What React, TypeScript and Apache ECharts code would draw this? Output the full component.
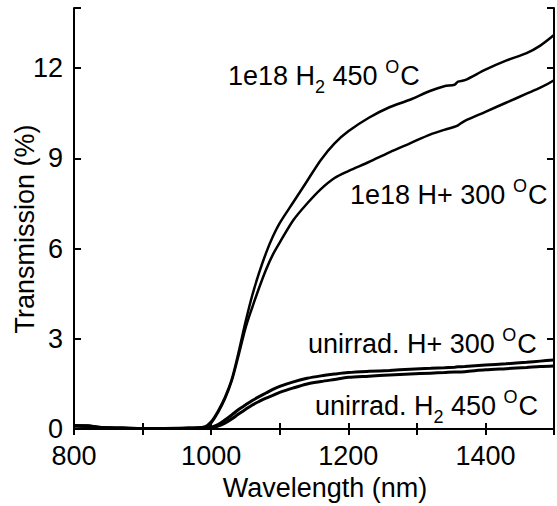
import React, { useEffect, useRef } from "react";
import * as echarts from "echarts";

// Wavelength samples (nm)
const wavelengths = [
  800, 820, 840, 880, 920, 960, 990, 1000, 1010, 1020, 1030, 1040, 1050, 1060,
  1070, 1080, 1090, 1100, 1120, 1140, 1160, 1180, 1200, 1230, 1260, 1290, 1320,
  1340, 1355, 1360, 1370, 1400, 1430, 1460, 1480, 1500,
];

// Transmission (%)
const irrH2_450 = [
  0.12, 0.12, 0.06, 0.04, 0.03, 0.04, 0.08, 0.25, 0.6, 1.05, 1.65, 2.55, 3.55,
  4.45, 5.2, 5.85, 6.4, 6.85, 7.55, 8.25, 8.95, 9.5, 9.9, 10.35, 10.7, 10.95,
  11.25, 11.4, 11.45, 11.55, 11.6, 11.95, 12.25, 12.5, 12.75, 13.1,
];
const irrHp_300 = [
  0.1, 0.1, 0.05, 0.03, 0.02, 0.03, 0.06, 0.2, 0.55, 1.0, 1.6, 2.45, 3.35, 4.05,
  4.7, 5.3, 5.8, 6.2, 6.95, 7.5, 7.98, 8.35, 8.58, 8.88, 9.2, 9.5, 9.8, 9.95,
  10.05, 10.1, 10.25, 10.55, 10.85, 11.15, 11.35, 11.6,
];
const unirrHp_300 = [
  0.12, 0.1, 0.05, 0.03, 0.02, 0.03, 0.04, 0.06, 0.15, 0.3, 0.47, 0.65, 0.8,
  0.95, 1.08, 1.2, 1.32, 1.42, 1.57, 1.69, 1.77, 1.83, 1.88, 1.92, 1.95, 1.99,
  2.02, 2.04, 2.06, 2.07, 2.08, 2.13, 2.17, 2.22, 2.26, 2.3,
];
const unirrH2_450 = [
  0.1, 0.08, 0.04, 0.02, 0.02, 0.02, 0.03, 0.04, 0.1, 0.2, 0.34, 0.5, 0.65, 0.8,
  0.92, 1.03, 1.12, 1.22, 1.37, 1.5, 1.58, 1.65, 1.72, 1.76, 1.8, 1.83, 1.86,
  1.88, 1.9, 1.9, 1.91, 1.97, 2.01, 2.05, 2.08, 2.1,
];

const seriesNames = [
  "1e18 H2 450 C",
  "1e18 H+ 300 C",
  "unirrad. H+ 300 C",
  "unirrad. H2 450 C",
];

type Part = [string, "n" | "sub" | "sup"];
const annotations: { x: number; base: number; parts: Part[] }[] = [
  { x: 228, base: 85, parts: [["1e18 H", "n"], ["2", "sub"], [" 450 ", "n"], ["O", "sup"], ["C", "n"]] },
  { x: 350, base: 204, parts: [["1e18 H+ 300 ", "n"], ["O", "sup"], ["C", "n"]] },
  { x: 308, base: 353, parts: [["unirrad. H+ 300 ", "n"], ["O", "sup"], ["C", "n"]] },
  { x: 315, base: 415, parts: [["unirrad. H", "n"], ["2", "sub"], [" 450 ", "n"], ["O", "sup"], ["C", "n"]] },
];

const FONT = '"Liberation Sans", Arial, Helvetica, sans-serif';
const FS = 27;
const SFS = 18;

function measure(text: string, size: number): number {
  const c = document.createElement("canvas").getContext("2d");
  if (!c) return text.length * size * 0.55;
  c.font = `${size}px ${FONT}`;
  return c.measureText(text).width;
}

function buildGraphics() {
  const els: any[] = [];
  annotations.forEach((a) => {
    let x = a.x;
    a.parts.forEach(([t, k]) => {
      const size = k === "n" ? FS : SFS;
      let base = a.base;
      if (k === "sub") base = a.base + 8;
      if (k === "sup") base = a.base - 12;
      els.push({
        type: "text",
        x,
        y: base - 0.35 * size,
        silent: true,
        style: {
          text: t,
          fontSize: size,
          fontFamily: FONT,
          fill: "#000",
          align: "left",
          verticalAlign: "middle",
        },
      });
      x += measure(t, size) + (k === "sup" ? 1 : 0);
    });
  });
  els.push({
    type: "text",
    x: 25,
    y: 229,
    rotation: Math.PI / 2,
    silent: true,
    style: {
      text: "Transmission (%)",
      fontSize: FS,
      fontFamily: FONT,
      fill: "#000",
      align: "center",
      verticalAlign: "middle",
    },
  });
  return els;
}

export default function App() {
  const ref = useRef<HTMLDivElement>(null);
  useEffect(() => {
    document.body.style.margin = "0";
    if (!ref.current) return;
    const chart = echarts.init(ref.current, undefined, { renderer: "svg" });
    const values = [irrH2_450, irrHp_300, unirrHp_300, unirrH2_450];
    const axisLine = { show: true, lineStyle: { color: "#000", width: 2 } };
    const tick = { show: true, inside: true, length: 6, lineStyle: { color: "#000", width: 2 } };
    chart.setOption({
      animation: false,
      backgroundColor: "#fff",
      grid: { left: 74, right: 1, top: 8, bottom: 73, containLabel: false },
      xAxis: [
        {
          type: "value",
          min: 800,
          max: 1500,
          interval: 100,
          name: "Wavelength (nm)",
          nameLocation: "middle",
          nameGap: 40,
          nameTextStyle: { fontSize: FS, fontFamily: FONT, color: "#000", padding: [0, 0, 0, 22] },
          axisLine,
          axisTick: tick,
          splitLine: { show: false },
          axisLabel: {
            fontSize: FS,
            fontFamily: FONT,
            color: "#000",
            margin: 13,
            formatter: (v: number) => (v % 200 === 0 ? String(v) : ""),
          },
        },
        {
          type: "value",
          position: "top",
          min: 800,
          max: 1500,
          interval: 100,
          axisLine,
          axisTick: tick,
          axisLabel: { show: false },
          splitLine: { show: false },
        },
      ],
      yAxis: [
        {
          type: "value",
          min: 0,
          max: 14,
          interval: 3,
          axisLine,
          axisTick: { ...tick, length: 7 },
          splitLine: { show: false },
          axisLabel: {
            fontSize: FS,
            fontFamily: FONT,
            color: "#000",
            margin: 11,
            formatter: (v: number) => (v % 3 === 0 ? String(v) : ""),
          },
        },
        {
          type: "value",
          position: "right",
          min: 0,
          max: 14,
          interval: 3,
          axisLine,
          axisTick: { ...tick, length: 7 },
          axisLabel: { show: false },
          splitLine: { show: false },
        },
      ],
      series: values.map((vals, i) => ({
        type: "line",
        name: seriesNames[i],
        data: wavelengths.map((w, j) => [w, vals[j]]),
        showSymbol: false,
        smooth: 0.3,
        lineStyle: { color: "#000", width: i < 2 ? 2.5 : 3 },
        z: 3,
      })),
      graphic: buildGraphics(),
    });
    return () => chart.dispose();
  }, []);
  return <div ref={ref} style={{ width: 557, height: 506 }} />;
}
